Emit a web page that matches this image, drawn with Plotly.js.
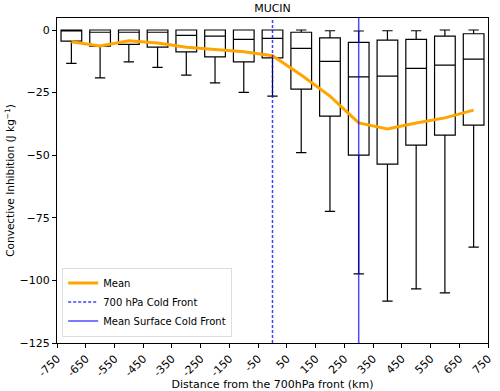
<!DOCTYPE html>
<html>
<head>
<meta charset="utf-8">
<script src="https://cdn.plot.ly/plotly-3.0.1.min.js"></script>
<style>
  html, body { margin: 0; padding: 0; background: #fff; }
  #chart { width: 500px; height: 391px; }
</style>
</head>
<body>
<div id="chart"></div>
<script>
// distance bins (km from the 700 hPa front)
var positions = [-700, -600, -500, -400, -300, -200, -100, 0, 100, 200, 300, 400, 500, 600, 700];

// box stats (J kg-1)
var upperWhisker = [0, 0, 0, 0, 0, 0, 0, 0, 0, -0.3, -0.4, -0.3, -0.3, 0, 0];
var q3 = [0, 0, 0, 0, 0, 0, 0, 0, -0.9, -3.1, -4.9, -4, -3.7, -2.4, -1.5];
var medians = [-0.3, -0.9, -0.9, -0.9, -2.1, -2.4, -3.7, -3.3, -7.3, -12.5, -18.7, -18.4, -15.3, -14, -11.6];
var q1 = [-4.4, -6.4, -5.7, -6.8, -8.7, -10.7, -12.7, -11.1, -23.6, -34.4, -50, -53.6, -46, -42, -38];
var lowerWhisker = [-13.3, -19.1, -12.7, -14.9, -18, -21.1, -24.9, -26.4, -49, -72.4, -97.4, -108.3, -103.4, -105, -86.7];

var means = [-4.7, -6.4, -4.3, -5.2, -6.9, -7.9, -8.7, -10.3, -18, -26.4, -37.1, -39.5, -37.1, -35.1, -32];

var front700 = 0;
var surfaceFront = 300;
var yLimits = [-125, 4.8];

var xTickVals = [-750, -650, -550, -450, -350, -250, -150, -50, 50, 150, 250, 350, 450, 550, 650, 750];
var xTickText = xTickVals.map(function (v) { return String(v); });

var boxes = {
    type: 'box',
    x: positions,
    q1: q1,
    median: medians,
    q3: q3,
    lowerfence: lowerWhisker,
    upperfence: upperWhisker,
    width: 72,
    whiskerwidth: 0.5,
    fillcolor: 'rgba(0,0,0,0)',
    line: {color: '#000', width: 1.2},
    showlegend: false,
    hoverinfo: 'skip'
};

var meanLine = {
    type: 'scatter',
    mode: 'lines',
    x: positions,
    y: means,
    name: 'Mean',
    line: {color: '#ffa500', width: 3}
};

var front700Line = {
    type: 'scatter',
    mode: 'lines',
    x: [front700, front700],
    y: yLimits,
    name: '700 hPa Cold Front',
    line: {color: 'rgba(0,0,255,0.75)', width: 1.5, dash: '3px,2px'}
};

var surfaceLine = {
    type: 'scatter',
    mode: 'lines',
    x: [surfaceFront, surfaceFront],
    y: yLimits,
    name: 'Mean Surface Cold Front',
    line: {color: 'rgba(0,0,255,0.7)', width: 1.5}
};

var axisStyle = {
    showline: true,
    mirror: true,
    linecolor: '#000',
    linewidth: 1,
    ticks: 'outside',
    ticklen: 4,
    tickcolor: '#000',
    showgrid: false,
    zeroline: false,
    tickfont: {size: 11, color: '#000'}
};

var layout = {
    width: 500,
    height: 391,
    margin: {l: 57, r: 12, t: 18, b: 48},
    font: {family: 'DejaVu Sans, sans-serif', color: '#000'},
    paper_bgcolor: '#fff',
    plot_bgcolor: '#fff',
    title: {text: 'MUCIN', font: {size: 11}, x: 0.545, xanchor: 'center', y: 0.99, yanchor: 'top'},
    xaxis: Object.assign({}, axisStyle, {
        range: [-750, 750],
        tickmode: 'array',
        tickvals: xTickVals,
        ticktext: xTickText,
        tickangle: -45,
        title: {text: 'Distance from the 700hPa front (km)', font: {size: 11}, standoff: 2}
    }),
    yaxis: Object.assign({}, axisStyle, {
        range: yLimits,
        tickvals: [0, -25, -50, -75, -100, -125],
        title: {text: 'Convective Inhibition (J kg<sup>−1</sup>)', font: {size: 10.5}, standoff: 2}
    }),
    legend: {
        x: 0.012, y: 0.02, xanchor: 'left', yanchor: 'bottom',
        bgcolor: 'rgba(255,255,255,0.85)',
        bordercolor: '#ddd', borderwidth: 1,
        font: {size: 10},
        itemwidth: 30,
        tracegroupgap: 0
    },
    showlegend: true
};

Plotly.newPlot('chart', [boxes, meanLine, front700Line, surfaceLine], layout, {displayModeBar: false, staticPlot: true});
</script>
</body>
</html>
